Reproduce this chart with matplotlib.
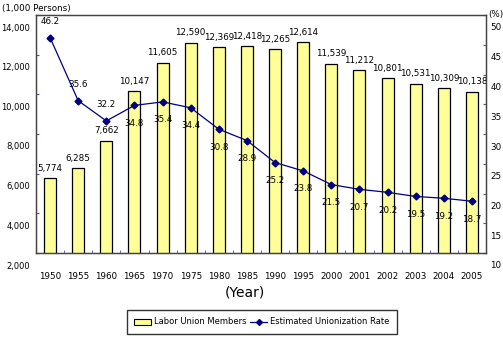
import matplotlib.pyplot as plt
import matplotlib.transforms as mtransforms
import numpy as np

years = ['1950', '1955', '1960', '1965', '1970', '1975', '1980', '1985',
         '1990', '1995', '2000', '2001', '2002', '2003', '2004', '2005']
members = [5774, 6285, 7662, 10147, 11605, 12590, 12369, 12418,
           12265, 12614, 11539, 11212, 10801, 10531, 10309, 10138]
rate = [46.2, 35.6, 32.2, 34.8, 35.4, 34.4, 30.8, 28.9,
        25.2, 23.8, 21.5, 20.7, 20.2, 19.5, 19.2, 18.7]
rate_above = [True, True, True] + [False] * 13

fs = 6.3
fig = plt.figure(figsize=(5.03, 3.39), dpi=100)
ax = fig.add_axes([36/503, 1-253/339, 450/503, 238/339])
ax2 = ax.twinx()

x = np.arange(len(years))
ax.bar(x, members, width=0.43, color='#ffff99', edgecolor='black', linewidth=0.9, zorder=2)
for xi, v in zip(x, members):
    ax.annotate(f'{v:,}', (xi, v), xytext=(0, 10), textcoords='offset pixels',
                ha='center', va='center', fontsize=fs)

ax2.plot(x, rate, color='#000080', linewidth=0.9, marker='D', markersize=3.5, zorder=3)
for xi, v, up in zip(x, rate, rate_above):
    ax2.annotate(f'{v}', (xi, v), xytext=(0, 16 if up else -18), textcoords='offset pixels',
                 ha='center', va='center', fontsize=fs)

ax.set_xlim(-0.5, len(years) - 0.5)
ax.set_ylim(2000, 14000)
ax2.set_ylim(10, 50)
ax.set_yticks(np.arange(2000, 14001, 2000))
ax.set_yticklabels([f'{v:,}' for v in range(2000, 14001, 2000)], fontsize=6)
ax2.set_yticks(np.arange(10, 51, 5))
ax2.set_yticklabels([str(v) for v in range(10, 51, 5)], fontsize=fs)
ax.set_xticks(x)
ax.set_xticklabels(years, fontsize=fs)
ax.set_xticks(np.arange(0.5, len(years) - 1, 1), minor=True)

ax.tick_params(axis='x', which='major', length=0, pad=14)
ax.tick_params(axis='x', which='minor', length=2, direction='in', color='#555599')
ax.tick_params(axis='y', length=2, direction='in', color='#555599', pad=4)
ax2.tick_params(axis='y', length=2, direction='in', color='#555599', pad=3)

# tick labels sit a little below their ticks
shift = mtransforms.ScaledTranslation(0, -12/100, fig.dpi_scale_trans)
for lab in ax.get_yticklabels() + ax2.get_yticklabels():
    lab.set_transform(lab.get_transform() + shift)

for a in (ax, ax2):
    for s in a.spines.values():
        s.set_color('#444444')
        s.set_linewidth(0.9)

fig.text(2/503, 1-8/339, '(1,000 Persons)', fontsize=fs, va='center', ha='left')
fig.text(488/503, 1-15/339, '(%)', fontsize=fs, va='center', ha='left')
fig.text(245/503, 1-293/339, '(Year)', fontsize=10, va='center', ha='center')

h1 = plt.Rectangle((0, 0), 1, 1, facecolor='#ffff99', edgecolor='black', linewidth=0.8)
h2, = ax2.plot([], [], color='#000080', linewidth=0.9, marker='D', markersize=3)
fig.legend([h1, h2], ['Labor Union Members', 'Estimated Unionization Rate'],
           loc='center', bbox_to_anchor=(262/503, 1-322/339), ncol=2, fontsize=6,
           frameon=True, fancybox=False, edgecolor='black', handlelength=2.0,
           columnspacing=0.4, handletextpad=0.4, borderpad=0.9)

fig.savefig('out.png', dpi=100)
